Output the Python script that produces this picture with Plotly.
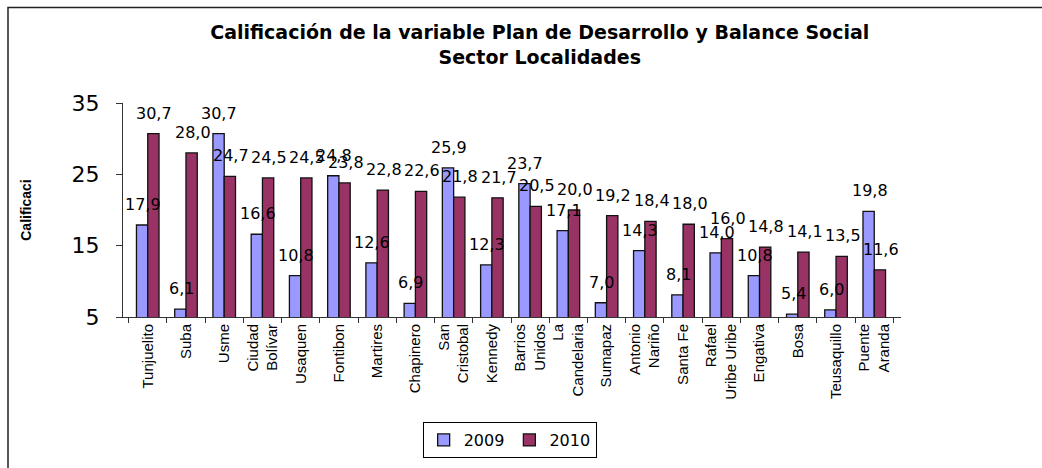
import plotly.graph_objects as go

categories = ["Tunjuelito", "Suba", "Usme", "Ciudad<br>Bolívar", "Usaquen", "Fontibon",
              "Martires", "Chapinero", "San<br>Cristobal", "Kennedy", "Barrios<br>Unidos",
              "La<br>Candelaria", "Sumapaz", "Antonio<br>Nariño", "Santa Fe",
              "Rafael<br>Uribe Uribe", "Engativa", "Bosa", "Teusaquillo", "Puente<br>Aranda"]
v2009 = [17.9, 6.1, 30.7, 16.6, 10.8, 24.8, 12.6, 6.9, 25.9, 12.3, 23.7, 17.1, 7.0, 14.3, 8.1,
         14.0, 10.8, 5.4, 6.0, 19.8]
v2010 = [30.7, 28.0, 24.7, 24.5, 24.5, 23.8, 22.8, 22.6, 21.8, 21.7, 20.5, 20.0, 19.2, 18.4, 18.0,
         16.0, 14.8, 14.1, 13.5, 11.6]
series_names = ["2009", "2010"]
y_ticks = [5, 15, 25, 35]

W, H = 1042, 468
ml, mr, mt, mb = 123, 141, 103, 150
bargap = 0.41

fig = go.Figure()
fig.add_trace(go.Bar(x=categories, y=v2009, name=series_names[0],
                     marker=dict(color="#9999FF", line=dict(color="#111111", width=1.3))))
fig.add_trace(go.Bar(x=categories, y=v2010, name=series_names[1],
                     marker=dict(color="#993366", line=dict(color="#111111", width=1.3))))

def fmt(v):
    return f"{v:.1f}".replace(".", ",")

pw = W - ml - mr
ph = H - mt - mb
cat_w = pw / len(categories)
half = cat_w * (1 - bargap) / 4
for vals, sh in ((v2009, -half), (v2010, half)):
    for c, v in zip(categories, vals):
        fig.add_annotation(x=c, y=v, text=fmt(v), showarrow=False, xanchor="center",
                           yanchor="bottom", xshift=sh + 1, yshift=9,
                           font=dict(family="DejaVu Sans", size=16, color="#000"))

fig.update_layout(
    width=W, height=H,
    margin=dict(l=ml, r=mr, t=mt, b=mb),
    paper_bgcolor="white", plot_bgcolor="white",
    barmode="group", bargap=bargap, bargroupgap=0,
    title=dict(text="<b>Calificación de la variable Plan de Desarrollo y Balance Social<br>Sector Localidades</b>",
               x=0.518, xanchor="center", y=0.916, yanchor="top",
               font=dict(family="DejaVu Sans", size=19, color="#000")),
    legend=dict(orientation="h", x=0.497, xanchor="center", y=(mb - 10) / -ph + 0.0, yanchor="bottom",
                bordercolor="#000", borderwidth=1, font=dict(family="DejaVu Sans", size=16, color="#000"),
                itemwidth=30, traceorder="normal"),
    font=dict(family="Liberation Sans", color="#000"),
    showlegend=True,
)
fig.update_xaxes(showline=True, linecolor="#333", linewidth=1, ticks="outside", tickson="boundaries",
                 ticklen=5, tickcolor="#333", tickangle=-90,
                 tickfont=dict(family="Liberation Sans", size=15, color="#000"), showgrid=False)
fig.update_yaxes(range=[5, 35], tickvals=y_ticks, showline=True, linecolor="#333", linewidth=1,
                 ticks="outside", ticklen=6, tickcolor="#333", showgrid=False, zeroline=False,
                 ticklabelstandoff=12,
                 tickfont=dict(family="DejaVu Sans", size=22, color="#000"),
                 title=dict(text="<b>Calificaci</b>", standoff=36,
                            font=dict(family="Liberation Sans", size=14, color="#000")))

# outer chart border
fig.add_shape(type="rect", xref="paper", yref="paper",
              x0=(8 - ml) / pw, x1=2.0, y0=-1.5, y1=1 + (mt - 7) / ph,
              line=dict(color="#222", width=1.5), fillcolor="rgba(0,0,0,0)", layer="below")

fig.write_html("out.html", config={"displayModeBar": False},
               post_script="document.body.style.margin='0';document.body.style.overflow='hidden';")
